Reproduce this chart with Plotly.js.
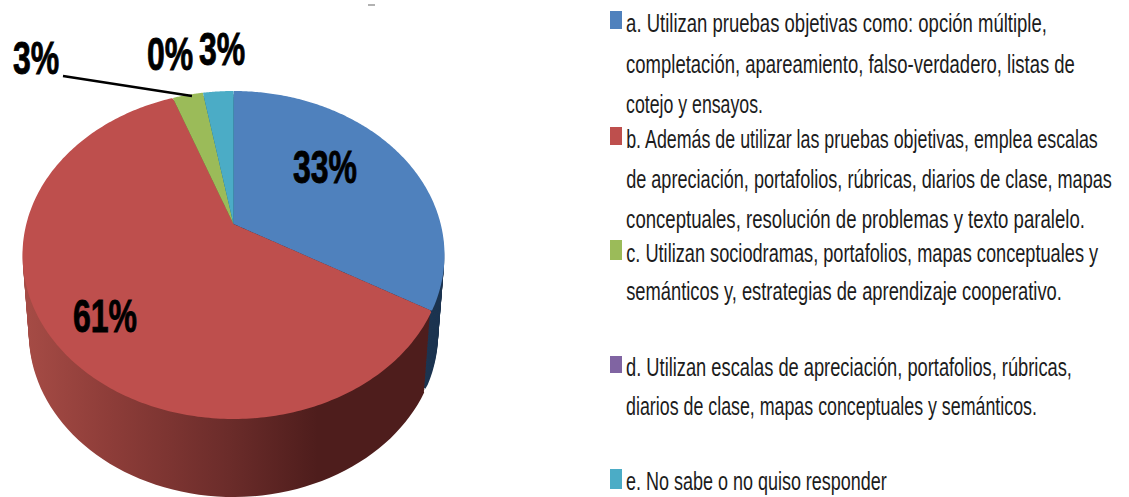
<!DOCTYPE html>
<html>
<head>
<meta charset="utf-8">
<script src="https://cdn.plot.ly/plotly-3.0.1.min.js"></script>
<style>html,body{margin:0;padding:0;background:#fff;overflow:hidden}#chart{width:1129px;height:497px}</style>
</head>
<body>
<div id="chart"></div>
<script>
// ---- data ----
const categories = ['a','b','c','d','e'];
const shares = [33.3, 61.1, 2.8, 0, 2.8];
const legendLines = [
  ['a. Utilizan pruebas objetivas como: opción múltiple,',
   'completación, apareamiento, falso-verdadero, listas de',
   'cotejo y ensayos.'],
  ['b. Además de utilizar las pruebas objetivas, emplea escalas',
   'de apreciación, portafolios, rúbricas, diarios de clase, mapas',
   'conceptuales, resolución de problemas y texto paralelo.'],
  ['c. Utilizan sociodramas, portafolios, mapas conceptuales y',
   'semánticos y, estrategias de aprendizaje cooperativo.'],
  ['d. Utilizan escalas de apreciación, portafolios, rúbricas,',
   'diarios de clase, mapas conceptuales y semánticos.'],
  ['e. No sabe o no quiso responder']
];
// ---- styles and layout ----
const W = 1129, H = 497;
const topColors  = ['#4F81BD','#BE4F4D','#9BBB59','#8064A2','#4BACC6'];
const sideColors = ['#1C3450','url(#sideRed)','#55682F','#473758','#1F6070'];
const labelCentres = [[325,167],[105,316],[36,58],[170,54],[222,49]];
const lineBaselines = [[31,71,111],[146,186,226],[260,298],[374,413],[488]];
const lineEnds = [[1047,1075,763],[1098,1112,1085],[1099,1062],[1072,1037],[887]];
const swatchBoxes = [[11,29],[127,145],[240,260],[356,373],[469,489]];
const px = x => x / W, py = y => 1 - y / H;

// geometry of the tilted disc: ellipse centre, radii, apex offset, extrusion
const CX = 233.5, CY = 255, RX = 211, RY = 164, APEX = -0.189, DEPTH = 78, SHRINK = 0.03;
const STEPS = 27;
const LEG_LEFT = 626;

const sliceTrace = colors => ({
  type:'pie', labels:categories, values:shares, sort:false, direction:'clockwise', rotation:0,
  textinfo:'none', hoverinfo:'skip', showlegend:false,
  marker:{colors:colors, line:{width:0}}
});
const traces = [];
for (let i = 0; i <= STEPS; i++) traces.push(sliceTrace(topColors));

const FONT = '"Liberation Sans Narrow","Liberation Sans",sans-serif';
const annotations = [];
const stretchInfo = [];
shares.forEach((v,i) => {
  annotations.push({
    xref:'paper', yref:'paper', x:px(labelCentres[i][0]), y:py(labelCentres[i][1]),
    xanchor:'center', yanchor:'middle', showarrow:false, text:Math.round(v)+'%',
    font:{family:FONT, size:32, color:'#000', weight:700}
  });
  stretchInfo.push(null);
});
legendLines.forEach((lines,i) => lines.forEach((t,j) => {
  annotations.push({
    xref:'paper', yref:'paper', x:px(LEG_LEFT - 2), y:py(lineBaselines[i][j]-8),
    xanchor:'left', yanchor:'middle', showarrow:false, text:t,
    font:{family:FONT, size:20.5, color:'#1c1c1c'}
  });
  stretchInfo.push(lineEnds[i][j]);
}));

const shapes = [
  {type:'line', xref:'paper', yref:'paper', x0:px(63), y0:py(76), x1:px(192), y1:py(96), line:{color:'#000',width:2.5}},
  {type:'line', xref:'paper', yref:'paper', x0:px(368), y0:py(5), x1:px(375), y1:py(5), line:{color:'#999',width:1.5}}
];
swatchBoxes.forEach((b,i) => shapes.push({
  type:'rect', xref:'paper', yref:'paper', x0:px(610), x1:px(622), y0:py(b[0]), y1:py(b[1]),
  line:{width:0}, fillcolor:topColors[i]
}));

const layout = {
  width:W, height:H, margin:{l:0,r:0,t:0,b:0}, paper_bgcolor:'#fff', plot_bgcolor:'#fff',
  showlegend:false, annotations, shapes
};

function addGradient(gd){
  const NS = 'http://www.w3.org/2000/svg';
  const svg = gd.querySelector('.main-svg');
  const defs = svg.querySelector('defs') || svg.insertBefore(document.createElementNS(NS,'defs'), svg.firstChild);
  const g = document.createElementNS(NS,'linearGradient');
  g.setAttribute('id','sideRed'); g.setAttribute('gradientUnits','userSpaceOnUse');
  g.setAttribute('x1',28); g.setAttribute('x2',430); g.setAttribute('y1',0); g.setAttribute('y2',0);
  [[0,'#A54B45'],[0.2,'#8E3D39'],[0.5,'#6B2C2A'],[0.72,'#4E1D1C'],[1,'#4E1D1C']].forEach(s => {
    const st = document.createElementNS(NS,'stop');
    st.setAttribute('offset',s[0]); st.setAttribute('stop-color',s[1]); g.appendChild(st);
  });
  defs.appendChild(g);
}

// projective tilt of the pie the library has drawn
function tilt(x, y, t){
  const den = 1 + APEX * y;
  const u = x * Math.sqrt(1 - APEX * APEX) / den;
  const v = (y + APEX) / den;
  return [CX + RX * u * (1 - SHRINK * t), CY + RY * v + DEPTH * t];
}
function warpPies(gd){
  const groups = gd.querySelectorAll('.pielayer .trace');
  groups.forEach((grp, idx) => {
    const isTop = idx === groups.length - 1;
    const t = isTop ? 0 : 1 - idx / (groups.length - 1);
    grp.querySelectorAll('path.surface').forEach((p, k) => {
      const n = p.getTotalLength();
      if (!n) return;
      const samples = isTop ? 400 : 160;
      const pts = [];
      for (let s = 0; s <= samples; s++) { const q = p.getPointAtLength(n * s / samples); pts.push([q.x,q.y]); }
      const ax = pts[0][0], ay = pts[0][1];
      const r = Math.max(...pts.map(q => Math.hypot(q[0]-ax,q[1]-ay)));
      const d = 'M' + pts.map(q => tilt((q[0]-ax)/r, (q[1]-ay)/r, t).map(c => c.toFixed(2)).join(',')).join('L') + 'Z';
      p.removeAttribute('transform');
      p.setAttribute('d', d);
      const slot = p.__data__ && p.__data__.i !== undefined ? p.__data__.i : k;
      p.style.fill = isTop ? topColors[slot] : sideColors[slot];
      p.style.stroke = 'none';
    });
  });
}
function stretchText(gd){
  // the reference image is stretched vertically: same for its text
  gd.querySelectorAll('.annotation').forEach((a, i) => {
    const tx = a.querySelector('text');
    if (!tx) return;
    const b = tx.getBBox();
    const cy = b.y + b.height / 2;
    if (stretchInfo[i] === null) {
      tx.setAttribute('transform', `translate(0 ${cy}) scale(1 1.43) translate(0 ${-cy})`);
      tx.style.stroke = '#000'; tx.style.strokeWidth = '0.6px';
    } else {
      const sx = (stretchInfo[i] - LEG_LEFT) / b.width;
      tx.setAttribute('transform',
        `translate(${b.x} ${cy}) scale(${sx} 1.3) translate(${-b.x} ${-cy})`);
    }
  });
}
const gd = document.getElementById('chart');
Plotly.newPlot(gd, traces, layout, {staticPlot:true, displayModeBar:false}).then(() => {
  addGradient(gd); warpPies(gd); stretchText(gd);
});
</script>
</body>
</html>
